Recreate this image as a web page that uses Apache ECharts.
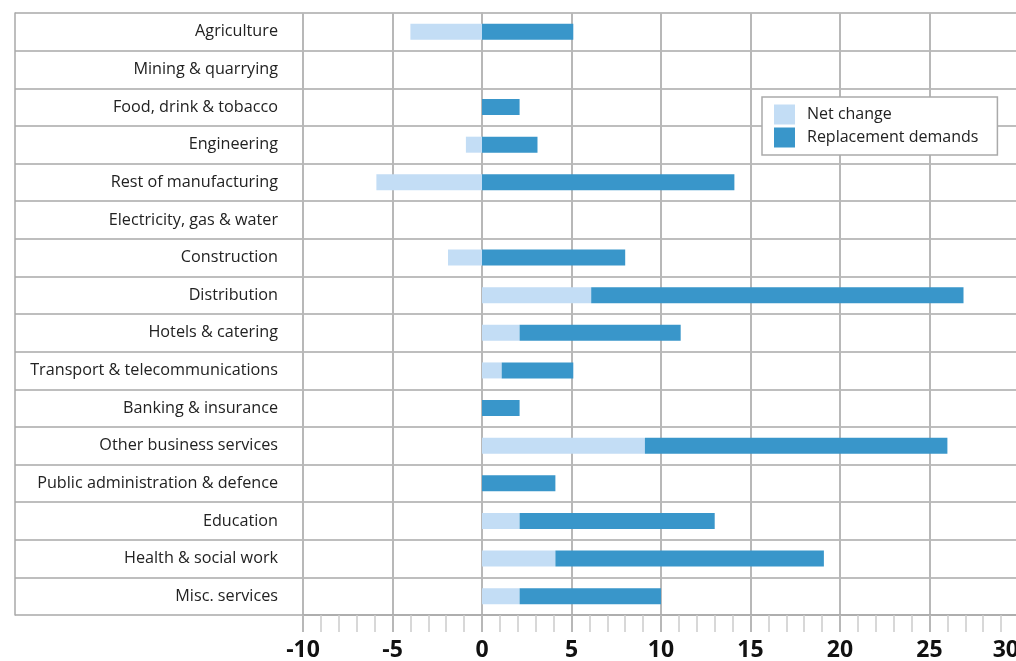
<!DOCTYPE html>
<html>
<head>
<meta charset="utf-8">
<script src="https://cdn.jsdelivr.net/npm/echarts@6/dist/echarts.min.js"></script>
<style>
html,body{margin:0;padding:0;background:#fff;}
#chart{width:1016px;height:661px;}
</style>
</head>
<body>
<div id="chart"></div>
<script>
const categories = [
  "Agriculture","Mining & quarrying","Food, drink & tobacco","Engineering",
  "Rest of manufacturing","Electricity, gas & water","Construction","Distribution",
  "Hotels & catering","Transport & telecommunications","Banking & insurance",
  "Other business services","Public administration & defence","Education",
  "Health & social work","Misc. services"
];
const netChange = [-4.0, null, null, -0.9, -5.9, null, -1.9, 6.1, 2.1, 1.1, null, 9.1, null, 2.1, 4.1, 2.1];
const replacementDemands = [5.1, null, 2.1, 3.1, 14.1, null, 8.0, 20.8, 9.0, 4.0, 2.1, 16.9, 4.1, 10.9, 15.0, 7.9];
const seriesNames = ["Net change", "Replacement demands"];
const xMin = -10, xMax = 30, xStep = 5;

const chart = echarts.init(document.getElementById('chart'));
const hColor = '#a9a9a9';
const vColor = '#b8b8b8';
const font = 'Open Sans';
chart.setOption({
  animation: false,
  backgroundColor: '#fff',
  grid: [
    { left: 303, right: -3, top: 13, bottom: 46, containLabel: false, outerBoundsMode: 'none' },
    { left: 15, width: 288, top: 13, bottom: 46, containLabel: false, outerBoundsMode: 'none' }
  ],
  legend: {
    data: seriesNames,
    orient: 'vertical',
    left: 762, top: 97,
    icon: 'rect',
    itemWidth: 21, itemHeight: 20, itemGap: 3,
    padding: [7.5, 19, 7.5, 12],
    borderColor: '#aaa', borderWidth: 1.5,
    backgroundColor: '#fff',
    textStyle: { fontFamily: font, fontSize: 16, color: '#222', padding: [0,0,0,7] }
  },
  xAxis: [{
    type: 'value', gridIndex: 0, min: xMin, max: xMax, interval: xStep,
    axisLine: { show: true, lineStyle: { color: hColor, width: 1.5 } },
    axisTick: { show: true, length: 17, lineStyle: { color: vColor, width: 2 } },
    minorTick: { show: true, splitNumber: 5, length: 17, lineStyle: { color: '#cccccc', width: 1.5 } },
    splitLine: { show: true, lineStyle: { color: vColor, width: 2 } },
    axisLabel: { color: '#111', fontFamily: font, fontWeight: 'bold', fontSize: 23, margin: 24, alignMaxLabel: 'right' }
  }, {
    type: 'value', gridIndex: 1, show: false
  }],
  yAxis: [{
    type: 'category', gridIndex: 0, data: categories, inverse: true,
    axisLine: { show: true, lineStyle: { color: vColor, width: 2 } },
    axisTick: { show: false },
    splitLine: { show: true, interval: 0, lineStyle: { color: hColor, width: 1.5 } },
    axisLabel: { show: false }
  }, {
    type: 'category', gridIndex: 1, data: categories, inverse: true, position: 'right',
    axisLine: { show: false },
    axisTick: { show: false },
    splitLine: { show: true, interval: 0, lineStyle: { color: hColor, width: 1.5 } },
    axisLabel: { inside: true, interval: 0, margin: 25, color: '#222', fontFamily: font, fontSize: 16.2 }
  }, {
    type: 'category', gridIndex: 1, data: categories, inverse: true, position: 'left',
    axisLine: { show: true, lineStyle: { color: hColor, width: 1.5 } },
    axisTick: { show: false }, axisLabel: { show: false }, splitLine: { show: false }
  }],
  series: [{
    name: seriesNames[0], type: 'bar', stack: 'total', data: netChange,
    xAxisIndex: 0, yAxisIndex: 0,
    barWidth: 16, itemStyle: { color: '#c3ddf5' }
  }, {
    name: seriesNames[1], type: 'bar', stack: 'total', data: replacementDemands,
    xAxisIndex: 0, yAxisIndex: 0,
    barWidth: 16, itemStyle: { color: '#3996ca' }
  }]
});
</script>
</body>
</html>
